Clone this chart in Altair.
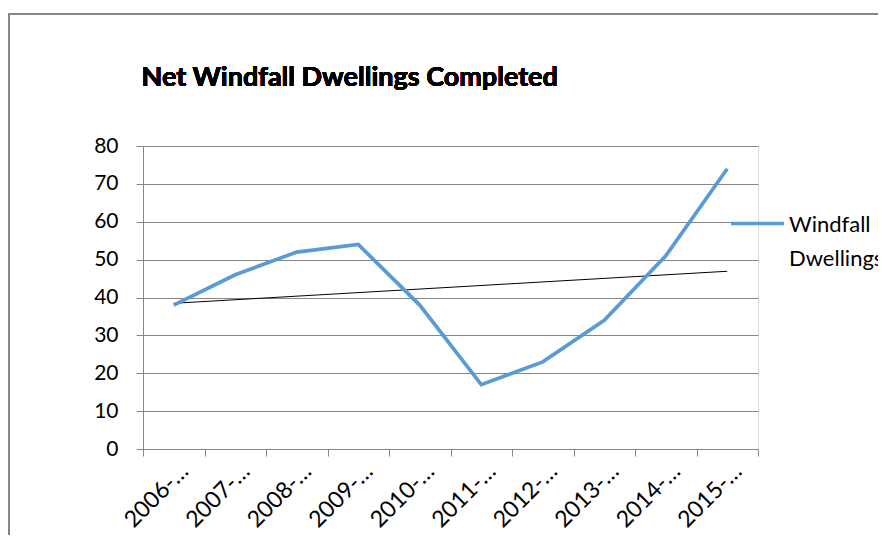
import altair as alt
import pandas as pd

years = ["2006-07", "2007-08", "2008-09", "2009-10", "2010-11",
         "2011-12", "2012-13", "2013-14", "2014-15", "2015-16"]
values = [38, 46, 52, 54, 38, 17, 23, 34, 51, 74]
series_name = "Windfall Dwellings"
title_text = "Net Windfall Dwellings Completed"
y_ticks = [0, 10, 20, 30, 40, 50, 60, 70, 80]

df = pd.DataFrame({"year": years, "value": values, "series": [series_name] * len(years)})

FONT = "Lato"
GRID = "#868686"
BLUE = "#5b9bd5"
FS = 21
DY = 8

x_axis = alt.Axis(
    title=None,
    labelAngle=-45,
    labelExpr="datum.label ? slice(datum.label, 0, 5) + '…' : ''",
    tickBand="extent",
    tickSize=7,
    tickColor=GRID,
    domainColor=GRID,
    labelFontSize=23,
    labelFont=FONT,
    labelColor="#000000",
    labelPadding=-2,
    labelOffset=-3,
    labelOverlap=False,
    grid=False,
)
x_enc = alt.X("year:N", sort=years, scale=alt.Scale(paddingInner=0, paddingOuter=0), axis=x_axis)

y_scale = alt.Scale(domain=[0, 80], nice=False)
y_axis = alt.Axis(
    title=None,
    values=y_ticks,
    tickSize=7,
    tickColor=GRID,
    domainColor=GRID,
    gridColor=GRID,
    gridWidth=1,
    labelFontSize=FS,
    labelFont=FONT,
    labelColor="#000000",
    labelPadding=18,
    labelOffset=-DY,
    labelOverlap=False,
)
y_enc = alt.Y("value:Q", scale=y_scale, axis=y_axis)

line = alt.Chart(df).mark_line(strokeWidth=3.7, color=BLUE).encode(
    x=x_enc,
    y=y_enc,
    color=alt.Color(
        "series:N",
        scale=alt.Scale(range=[BLUE]),
        legend=alt.Legend(
            title=None,
            orient="none",
            legendX=586,
            legendY=49,
            symbolType="stroke",
            symbolSize=2800,
            symbolStrokeWidth=3.7,
            labelFontSize=22,
            labelFont=FONT,
            labelColor="#000000",
            labelBaseline="alphabetic",
            labelOffset=3,
            labelExpr="['Windfall', 'Dwellings']",
        ),
    ),
)

trend = (
    alt.Chart(df)
    .transform_window(idx="row_number()")
    .transform_regression("idx", "value", method="linear")
    .transform_calculate(year="[" + ",".join(f"'{y}'" for y in years) + "][datum.idx - 1]")
    .mark_line(color="#000000", strokeWidth=1)
    .encode(x=x_enc, y=y_enc)
)

frame = alt.Chart(df).mark_rect(fill=None, stroke=GRID, strokeWidth=1.5).encode(
    x=alt.value(-134), y=alt.value(-132), x2=alt.value(900), y2=alt.value(600)
)

title = alt.Chart(df).mark_text(
    align="left", baseline="alphabetic", fontSize=27, font=FONT, fontWeight="bold", color="#000000"
).encode(x=alt.value(-1.5), y=alt.value(-60), text=alt.value(title_text))

chart = (
    alt.layer(frame, trend, line, title)
    .properties(
        width=615,
        height=303,
        padding={"left": 135, "top": 138, "right": 120, "bottom": 86},
        autosize=alt.AutoSizeParams(type="none"),
    )
    .configure_view(stroke=None)
    .configure(background="white", style={"guide-label": {"lineHeight": 34, "dy": DY}})
)

chart.save("out.html", embed_options={"renderer": "svg", "actions": False})
